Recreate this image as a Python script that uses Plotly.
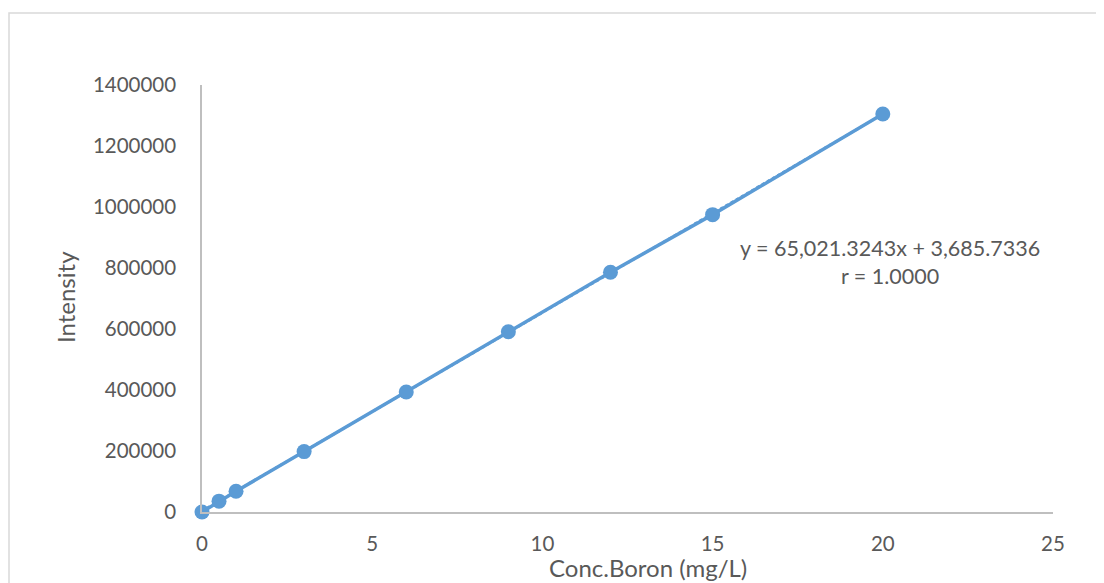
import plotly.graph_objects as go

conc = [0, 0.5, 1, 3, 6, 9, 12, 15, 20]
intensity = [0, 35500, 68000, 198000, 393500, 591000, 786000, 975000, 1305000]
slope = 65021.3243
intercept = 3685.7336
trend_x = [0, 20]
trend_y = [slope * x + intercept for x in trend_x]
x_ticks = [0, 5, 10, 15, 20, 25]
y_ticks = [0, 200000, 400000, 600000, 800000, 1000000, 1200000, 1400000]

blue = "#5b9bd5"
txt = "#595959"
font_family = "Lato, Open Sans, sans-serif"

# page has an 8px body offset; work in page pixels and convert
OFF = 8
L, R, T, B = 202, 1053, 85, 512
W, H = 1104 - OFF, 583 - OFF
pw, ph = R - L, B - T


def px(x):
    return (x - L) / pw


def py(y):
    return (B - y) / ph


fig = go.Figure()
fig.add_trace(go.Scatter(x=trend_x, y=trend_y, mode="lines",
                         line=dict(color=blue, width=2.5, dash="dot"), hoverinfo="skip"))
fig.add_trace(go.Scatter(x=conc, y=intensity, mode="lines+markers",
                         line=dict(color=blue, width=3.5),
                         marker=dict(color=blue, size=15), cliponaxis=False))

fig.update_layout(
    width=W, height=H,
    margin=dict(l=L - OFF, r=W - (R - OFF), t=T - OFF, b=H - (B - OFF)),
    paper_bgcolor="white", plot_bgcolor="white",
    showlegend=False,
    font=dict(family=font_family, size=20.5, color=txt),
    xaxis=dict(range=[0, 25], tickvals=x_ticks, showgrid=False, zeroline=False,
               showline=True, linecolor="#bfbfbf", linewidth=1.5,
               ticks="", ticklabelstandoff=13, fixedrange=True),
    yaxis=dict(range=[0, 1400000], tickvals=y_ticks, tickformat="d", showgrid=False,
               zeroline=False, showline=True, linecolor="#bfbfbf", linewidth=1.5,
               ticks="", ticklabelstandoff=20, fixedrange=True),
    shapes=[dict(type="rect", xref="paper", yref="paper",
                 x0=px(9), x1=px(1130), y0=py(600), y1=py(13),
                 line=dict(color="#d9d9d9", width=1.5), layer="below")],
    annotations=[
        dict(text="Intensity", xref="paper", yref="paper",
             x=px(65), y=py(297), textangle=-90, xanchor="center", yanchor="middle",
             showarrow=False, font=dict(size=24, color=txt)),
        dict(text="Conc.Boron (mg/L)", xref="paper", yref="paper",
             x=px(648), y=py(567), xanchor="center", yanchor="middle",
             showarrow=False, font=dict(size=24, color=txt)),
        dict(text="y = 65,021.3243x + 3,685.7336<br>r = 1.0000", xref="paper", yref="paper",
             x=px(890), y=py(262), xanchor="center", yanchor="middle", align="center",
             showarrow=False, font=dict(size=21.5, color=txt)),
    ],
)

fig.write_html("out.html")
